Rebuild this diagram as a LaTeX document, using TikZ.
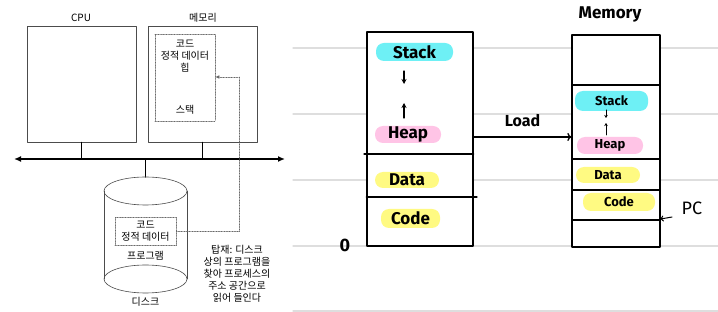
\documentclass[tikz,border=0pt]{standalone}
\usepackage{fontspec}
\setmainfont{Noto Sans CJK KR}
\newfontfamily\hand{Fira Sans}
\usetikzlibrary{arrows.meta}
\begin{document}
\begin{tikzpicture}[x=1pt, y=-1pt, line join=round, line cap=round,
    box/.style={draw=black!70, line width=0.6pt, fill=white, inner sep=0pt},
    dotbox/.style={draw=black!60, densely dotted, line width=0.6pt, inner sep=0pt},
    ktext/.style={font=\fontsize{10}{12}\selectfont, align=center, inner sep=0pt},
    hl/.style={fill=#1, rounded corners=8pt, inner sep=0pt, font=\hand\bfseries\fontsize{17}{19}\selectfont},
    hls/.style={fill=#1, rounded corners=8pt, inner sep=0pt, font=\hand\bfseries\fontsize{13}{15}\selectfont},
    hand/.style={font=\hand\bfseries\fontsize{16}{18}\selectfont, inner sep=0pt},
    ruled/.style={draw=black!13, line width=1.2pt},
    pen/.style={draw=black, line width=1.3pt}]
  \definecolor{cStack}{RGB}{110, 240, 245}
  \definecolor{cHeap}{RGB}{255, 196, 230}
  \definecolor{cSeg}{RGB}{255, 250, 130}

  \useasboundingbox (0,0) rectangle (718,312);

  % ruled paper
  \foreach \y in {48,114,180,246,311}
    \draw[ruled] (293,\y) -- (718,\y);

  % --- left: CPU, memory, bus, disk
  \node[box, minimum width=109, minimum height=116] (cpu) at (81.5,84) {};
  \node[box, minimum width=109, minimum height=116] (mem) at (202.5,84) {};
  \node[ktext] (cpulbl) at (81,18) {CPU};
  \node[ktext] (memlbl) at (203,18) {메모리};
  \node[dotbox, minimum width=60, minimum height=87] (space) at (185,77.5) {};
  \node[ktext] (segs) at (185,56) {코드\\정적 데이터\\힙};
  \node[ktext] (stk) at (185,110) {스택};

  \coordinate (busL) at (14,159);
  \coordinate (busR) at (285,159);
  \draw[line width=2.2pt, {Latex[length=7pt,width=6pt]}-{Latex[length=7pt,width=6pt]}] (busL) -- (busR);
  \draw[line width=1.1pt] (cpu.south) -- (cpu.south |- busL);
  \draw[line width=1.1pt] (mem.south) -- (mem.south |- busL);

  \coordinate (disktop) at (145.5,177);
  \draw[line width=1.1pt] (disktop |- busL) -- (disktop);
  \draw[draw=black!70, line width=0.6pt] (145.5,191) ellipse [x radius=41.5, y radius=14];
  \draw[draw=black!70, line width=0.6pt] (145.5,279) ellipse [x radius=41.5, y radius=14];
  \draw[draw=black!70, line width=0.6pt] (104,191) -- (104,279) (187,191) -- (187,279);
  \node[dotbox, fill=white, minimum width=61, minimum height=28] (prog) at (145.5,231) {};
  \node[ktext] (progtxt) at (145.5,231) {코드\\정적 데이터};
  \node[ktext] (proglbl) at (145.5,256) {프로그램};
  \node[ktext] (disklbl) at (145.5,302) {디스크};

  \coordinate (loadturn) at (239,77);
  \draw[draw=black!60, densely dotted, line width=0.6pt, -{Latex[length=4pt,width=3.5pt]}]
    (prog.east) -| (loadturn) -- (space.east |- loadturn);
  \node[ktext] (note) at (237,274) {탑재: 디스크\\상의 프로그램을\\찾아 프로세스의\\주소 공간으로\\읽어 들인다};

  % --- right: process image and memory
  \node[pen, fill=white, minimum width=106, minimum height=214, inner sep=0pt] (proc) at (420,139) {};
  \draw[pen] (364,154) -- (proc.east |- 0,154);
  \draw[pen] (proc.west |- 0,197) -- (477,197);
  \node[hl=cStack, minimum width=77, minimum height=18] (stackA) at (414.5,52) {Stack};
  \node[hl=cHeap, minimum width=66, minimum height=17] (heapA) at (408,134.5) {Heap};
  \node[hl=cSeg, minimum width=64, minimum height=16] (dataA) at (407,180) {Data};
  \node[hl=cSeg, minimum width=59, minimum height=19] (codeA) at (410.5,218.5) {Code};
  \draw[pen, -{Stealth[length=5pt,width=5pt]}] (404,71) -- (404,84);
  \draw[pen, -{Stealth[length=5pt,width=5pt]}] (404,118) -- (404,103);
  \node[hand, font=\hand\bfseries\fontsize{18}{20}\selectfont] (zero) at (345,245) {0};

  \node[pen, fill=white, minimum width=88, minimum height=212, inner sep=0pt] (mem2) at (616,141) {};
  \draw[draw=black, line width=2pt] (572,85) rectangle (660,220);
  \draw[pen] (572,159) -- (660,159);
  \draw[pen] (572,190) -- (660,190);
  \node[hand, font=\hand\bfseries\fontsize{17}{19}\selectfont] (memtitle) at (610,15) {Memory};
  \node[hls=cStack, minimum width=73, minimum height=20] (stackB) at (611.5,101) {Stack};
  \node[hls=cHeap, minimum width=66, minimum height=17] (heapB) at (610,145.5) {Heap};
  \node[hls=cSeg, minimum width=64, minimum height=16] (dataB) at (608,175) {Data};
  \node[hls=cSeg, minimum width=72, minimum height=18] (codeB) at (619,202) {Code};
  \draw[line width=1pt, -{Stealth[length=3pt,width=3.5pt]}] (606,110) -- (606,118);
  \draw[line width=1pt, -{Stealth[length=3pt,width=3.5pt]}] (606,135) -- (606,123);

  \draw[pen, -{To[length=4pt,width=8pt]}] (proc.east |- 0,137) -- node[hand, above=10pt] (loadlbl) {Load} (mem2.west |- 0,137);

  \node[font=\hand\fontsize{18}{20}\selectfont, inner sep=0pt] (pc) at (692,208) {PC};
  \coordinate (pcend) at (672,217);
  \draw[line width=1pt, -{To[length=3pt,width=6pt]}] (pcend) -- (mem2.east |- 0,219);
\end{tikzpicture}
\end{document}
